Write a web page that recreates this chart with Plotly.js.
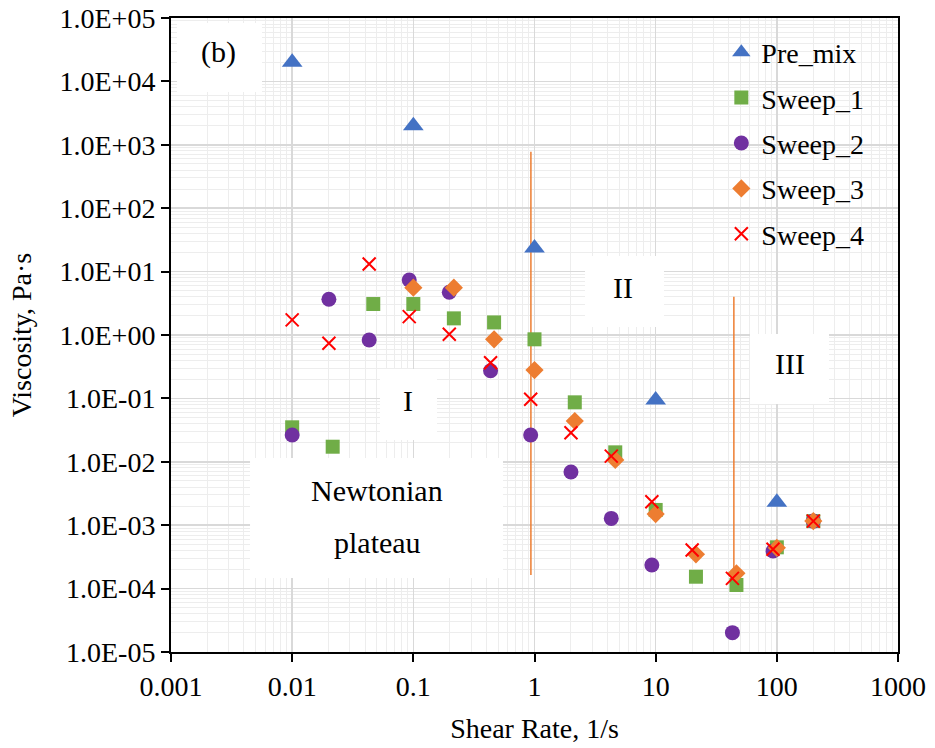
<!DOCTYPE html>
<html>
<head>
<meta charset="utf-8">
<script src="https://cdn.plot.ly/plotly-3.0.1.min.js"></script>
<style>html,body{margin:0;padding:0;background:#fff;}#chart{width:935px;height:748px;}</style>
</head>
<body>
<div id="chart"></div>
<script>
// Shear rate (1/s) and viscosity (Pa·s)
const preMixX = [0.01, 0.1, 1, 10, 100];
const preMixY = [2.0e4, 2.0e3, 23.5, 0.094, 0.0023];

const sweep1X = [0.01, 0.0216, 0.0467, 0.1, 0.216, 0.464, 1, 2.15, 4.64, 10, 21.5, 46.4, 100, 200];
const sweep1Y = [0.035, 0.0173, 3.08, 3.08, 1.83, 1.58, 0.855, 0.0867, 0.0141, 0.00174, 1.54e-4, 1.14e-4, 4.48e-4, 1.16e-3];

const sweep2X = [0.01, 0.0201, 0.0432, 0.0925, 0.198, 0.434, 0.93, 2.0, 4.3, 9.3, 43, 93, 200];
const sweep2Y = [0.0265, 3.66, 0.834, 7.38, 4.72, 0.273, 0.0265, 0.0069, 0.00128, 2.36e-4, 2.02e-5, 3.92e-4, 1.16e-3];

const sweep3X = [0.1, 0.216, 0.464, 1, 2.15, 4.64, 10, 21.5, 46.4, 100, 200];
const sweep3Y = [5.57, 5.57, 0.855, 0.28, 0.044, 0.0107, 0.0015, 3.47e-4, 1.74e-4, 4.4e-4, 1.16e-3];

const sweep4X = [0.01, 0.0201, 0.0432, 0.0925, 0.198, 0.434, 0.93, 2.0, 4.3, 9.3, 20, 43, 93, 200];
const sweep4Y = [1.73, 0.74, 13.2, 1.95, 1.03, 0.366, 0.097, 0.0288, 0.0123, 0.00235, 4.07e-4, 1.45e-4, 4.17e-4, 1.16e-3];

// Region boundary lines
const boundary1X = [0.934, 0.934];
const boundary1Y = [778, 1.64e-4];
const boundary2X = [44.2, 44.2];
const boundary2Y = [4.0, 1.35e-4];

// Tick labels
const xTickVals = [0.001, 0.01, 0.1, 1, 10, 100, 1000];
const xTickText = ['0.001', '0.01', '0.1', '1', '10', '100', '1000'];
const yTickVals = [1e5, 1e4, 1e3, 1e2, 1e1, 1, 1e-1, 1e-2, 1e-3, 1e-4, 1e-5];
const yTickText = ['1.0E+05', '1.0E+04', '1.0E+03', '1.0E+02', '1.0E+01', '1.0E+00', '1.0E-01', '1.0E-02', '1.0E-03', '1.0E-04', '1.0E-05'];

const FONT = 'Liberation Serif, Times New Roman, serif';

const traces = [
  {x: boundary1X, y: boundary1Y, mode: 'lines', line: {color: '#ED7D31', width: 1.5}, showlegend: false, hoverinfo: 'skip'},
  {x: boundary2X, y: boundary2Y, mode: 'lines', line: {color: '#ED7D31', width: 1.5}, showlegend: false, hoverinfo: 'skip'},
  {name: 'Pre_mix', x: preMixX, y: preMixY, mode: 'markers', legendgroup: 'a',
   marker: {symbol: 'triangle-up', size: 18, color: '#4472C4'}},
  {name: 'Sweep_1', x: sweep1X, y: sweep1Y, mode: 'markers', legendgroup: 'b',
   marker: {symbol: 'square', size: 14, color: '#70AD47'}},
  {name: 'Sweep_2', x: sweep2X, y: sweep2Y, mode: 'markers', legendgroup: 'c',
   marker: {symbol: 'circle', size: 15, color: '#7030A0'}},
  {name: 'Sweep_3', x: sweep3X, y: sweep3Y, mode: 'markers', legendgroup: 'd',
   marker: {symbol: 'diamond', size: 14, color: '#ED7D31'}},
  {name: 'Sweep_4', x: sweep4X, y: sweep4Y, mode: 'markers', legendgroup: 'e',
   marker: {symbol: 'x-thin-open', size: 13, color: '#FF0000', line: {color: '#FF0000', width: 2}}}
];

function box(x0, x1, y0, y1) {
  return {type: 'rect', xref: 'paper', yref: 'paper', x0: x0, x1: x1, y0: y0, y1: y1,
          fillcolor: '#FFFFFF', line: {width: 0}, layer: 'above'};
}
function label(text, x, y, size) {
  return {text: text, xref: 'paper', yref: 'paper', x: x, y: y, xanchor: 'center', yanchor: 'middle',
          showarrow: false, font: {family: FONT, size: size, color: '#000'}};
}

const layout = {
  width: 935, height: 748, autosize: false,
  margin: {l: 171, r: 37, t: 18, b: 96},
  paper_bgcolor: '#FFFFFF', plot_bgcolor: '#FFFFFF',
  font: {family: FONT, size: 28, color: '#000'},
  showlegend: true,
  legend: {x: 0.757, y: 0.985, xanchor: 'left', yanchor: 'top', bgcolor: 'rgba(0,0,0,0)',
           font: {family: FONT, size: 28, color: '#000'}, traceorder: 'grouped', tracegroupgap: 6},
  xaxis: {
    type: 'log', range: [-3, 3],
    tickmode: 'array', tickvals: xTickVals, ticktext: xTickText,
    ticks: 'outside', ticklen: 8, tickwidth: 2, tickcolor: '#000',
    showline: true, linecolor: '#000', linewidth: 2, mirror: true,
    showgrid: true, gridcolor: '#D9D9D9', gridwidth: 1.5,
    minor: {tickmode: 'linear', dtick: 'D1', showgrid: true, gridcolor: '#EDEDED', gridwidth: 1, ticks: ''},
    zeroline: false,
    tickfont: {family: FONT, size: 28, color: '#000'},
    title: {text: 'Shear Rate, 1/s', font: {family: FONT, size: 28, color: '#000'}, standoff: 18}
  },
  yaxis: {
    type: 'log', range: [-5, 5],
    tickmode: 'array', tickvals: yTickVals, ticktext: yTickText,
    ticks: 'outside', ticklen: 8, tickwidth: 2, tickcolor: '#000',
    showline: true, linecolor: '#000', linewidth: 2, mirror: true,
    showgrid: true, gridcolor: '#D9D9D9', gridwidth: 1.5,
    minor: {tickmode: 'linear', dtick: 'D1', showgrid: true, gridcolor: '#EDEDED', gridwidth: 1, ticks: ''},
    zeroline: false,
    tickfont: {family: FONT, size: 28, color: '#000'},
    title: {text: 'Viscosity, Pa·s', font: {family: FONT, size: 28, color: '#000'}, standoff: 20}
  },
  shapes: [
    box(0.0083, 0.1252, 0.8833, 0.9921),
    box(0.2875, 0.3659, 0.3344, 0.4464),
    box(0.5695, 0.6781, 0.5126, 0.6246),
    box(0.7964, 0.9051, 0.3912, 0.5016),
    box(0.1087, 0.4567, 0.1167, 0.3060)
  ],
  annotations: [
    label('(b)', 0.066, 0.946, 30),
    label('I', 0.326, 0.396, 30),
    label('II', 0.6217, 0.5757, 30),
    label('III', 0.8508, 0.4543, 30),
    label('Newtonian', 0.2834, 0.2555, 30),
    label('plateau', 0.2834, 0.1720, 30)
  ]
};

Plotly.newPlot('chart', traces, layout, {displayModeBar: false, staticPlot: true});
</script>
</body>
</html>
